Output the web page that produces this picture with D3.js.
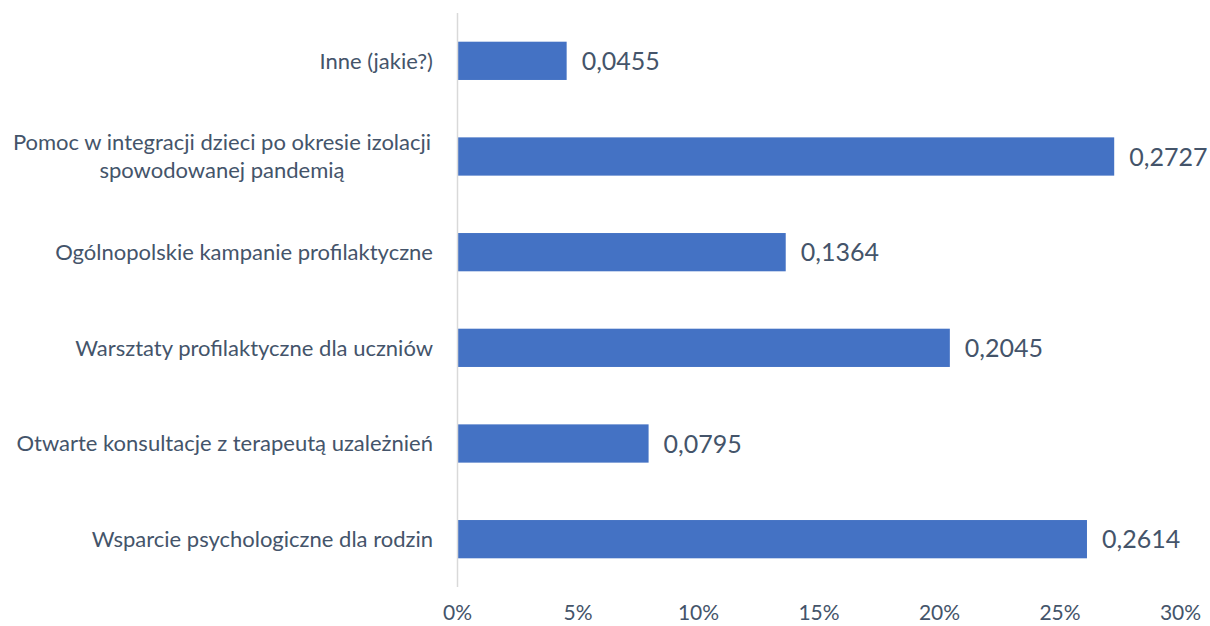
<!DOCTYPE html>
<html>
<head>
<meta charset="utf-8">
<script src="https://d3js.org/d3.v7.min.js"></script>
<style>
  body { margin: 0; background: #fff; }
  text { font-family: Lato, "Open Sans", sans-serif; fill: #44546A; }
</style>
</head>
<body>
<script>
// Categories top to bottom, with their shares.
const categories = [
  "Inne (jakie?)",
  "Pomoc w integracji dzieci po okresie izolacji|spowodowanej pandemią",
  "Ogólnopolskie kampanie profilaktyczne",
  "Warsztaty profilaktyczne dla uczniów",
  "Otwarte konsultacje z terapeutą uzależnień",
  "Wsparcie psychologiczne dla rodzin"
];
const values = [0.0455, 0.2727, 0.1364, 0.2045, 0.0795, 0.2614];
const tickValues = [0, 0.05, 0.10, 0.15, 0.20, 0.25, 0.30];

const width = 1210, height = 626;
const plotLeft = 457, plotRight = 1180, plotTop = 13, plotBottom = 587;

let svg = d3.select("body").append("svg")
    .attr("width", width)
    .attr("height", height);

let x = d3.scaleLinear().domain([0, 0.3]).range([plotLeft, plotRight]);
let y = d3.scaleBand().domain(categories).range([plotTop, plotBottom])
    .paddingInner(0.6).paddingOuter(0.3);

// Bars.
svg.selectAll("rect.bar").data(values).enter().append("rect")
    .attr("class", "bar")
    .attr("x", x(0))
    .attr("y", (d, i) => y(categories[i]))
    .attr("width", d => x(d) - x(0))
    .attr("height", y.bandwidth())
    .attr("fill", "#4472C4");

// Vertical axis line.
svg.append("line")
    .attr("x1", x(0) + 0.5).attr("x2", x(0) + 0.5)
    .attr("y1", plotTop).attr("y2", plotBottom)
    .attr("stroke", "#D9D9D9").attr("stroke-width", 1.5);

// Value labels.
svg.selectAll("text.val").data(values).enter().append("text")
    .attr("class", "val")
    .attr("x", d => x(d) + 15)
    .attr("y", (d, i) => y(categories[i]) + y.bandwidth() / 2)
    .attr("dy", "0.36em")
    .style("font-size", "25px")
    .text(d => d.toFixed(4).replace(".", ","));

// Category labels (wrapped where marked with |).
categories.forEach(c => {
  let lines = c.split("|");
  let cy = y(c) + y.bandwidth() / 2;
  let t = svg.append("text")
      .attr("text-anchor", "middle")
      .attr("x", 222)
      .style("font-size", "22px");
  lines.forEach((l, j) => {
    t.append("tspan")
      .attr("x", 222)
      .attr("y", cy + (j - (lines.length - 1) / 2) * 28)
      .attr("dy", "0.35em")
      .text(l);
  });
  if (lines.length === 1) {
    t.attr("text-anchor", "end");
    t.selectAll("tspan").attr("x", 433);
  }
});

// X axis tick labels.
let xAxis = d3.axisBottom(x).tickValues(tickValues)
    .tickFormat(d => Math.round(d * 100) + "%")
    .tickSize(0).tickPadding(0);
let g = svg.append("g").attr("transform", "translate(0," + 620 + ")").call(xAxis);
g.select(".domain").remove();
g.selectAll("text")
    .attr("dy", "0")
    .style("font-size", "21px")
    .style("font-family", "Lato, 'Open Sans', sans-serif")
    .attr("fill", "#44546A");
</script>
</body>
</html>
